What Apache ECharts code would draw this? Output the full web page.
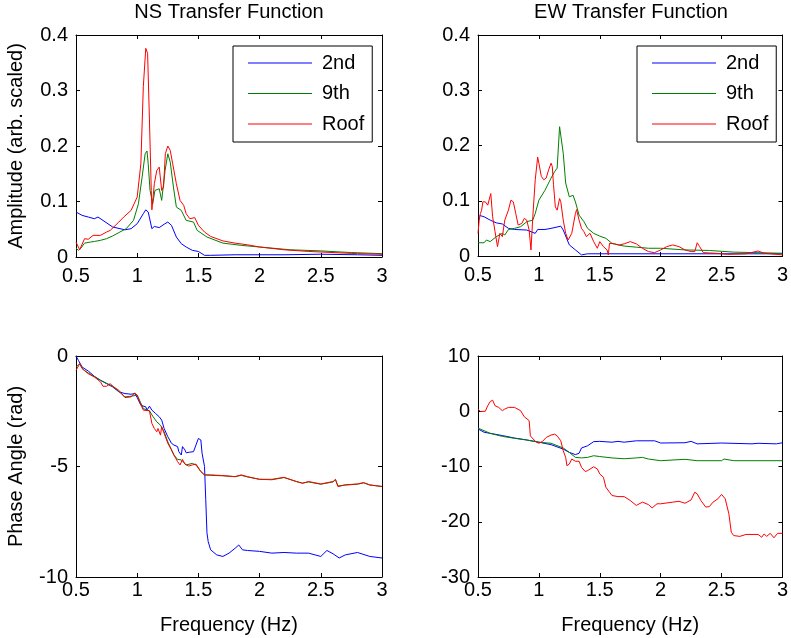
<!DOCTYPE html>
<html>
<head>
<meta charset="utf-8">
<script src="https://cdn.jsdelivr.net/npm/echarts@6/dist/echarts.min.js"></script>
<style>html,body{margin:0;padding:0;background:#fff}#c{width:791px;height:638px}</style>
</head>
<body>
<div id="c"></div>
<script>
// ---------- data (frequency in Hz) ----------
var seriesNames = ['2nd', '9th', 'Roof'];
var xTicks = [0.5, 1, 1.5, 2, 2.5, 3];

// NS amplitude
var nsAmp2ndF = [0.5,0.55,0.6,0.65,0.68,0.72,0.8,0.9,0.95,1.0,1.05,1.07,1.09,1.12,1.14,1.18,1.22,1.25,1.28,1.32,1.36,1.4,1.45,1.5,1.55,1.6,1.8,2.0,2.2,2.5,2.8,3.0];
var nsAmp2ndA = [0.081,0.075,0.072,0.069,0.072,0.066,0.054,0.049,0.051,0.06,0.078,0.085,0.081,0.051,0.055,0.053,0.059,0.063,0.057,0.036,0.024,0.018,0.012,0.01,0.003,0.003,0.004,0.004,0.004,0.005,0.004,0.003];
var nsAmp9thF = [0.5,0.52,0.54,0.57,0.62,0.65,0.7,0.75,0.8,0.85,0.91,0.97,1.01,1.04,1.065,1.08,1.09,1.105,1.127,1.145,1.16,1.18,1.2,1.228,1.25,1.27,1.296,1.32,1.36,1.4,1.46,1.49,1.57,1.7,1.85,2.0,2.25,2.5,2.75,3.0];
var nsAmp9thA = [0.016,0.012,0.016,0.025,0.027,0.028,0.03,0.033,0.038,0.044,0.051,0.066,0.096,0.144,0.186,0.191,0.168,0.12,0.096,0.12,0.12,0.123,0.102,0.156,0.186,0.171,0.126,0.09,0.084,0.066,0.063,0.048,0.036,0.025,0.021,0.018,0.013,0.011,0.008,0.006];
var nsAmpRoofF = [0.5,0.53,0.57,0.6,0.64,0.7,0.75,0.78,0.85,0.89,0.95,1.0,1.03,1.05,1.07,1.085,1.1,1.115,1.12,1.14,1.16,1.18,1.2,1.215,1.23,1.25,1.27,1.29,1.32,1.35,1.38,1.4,1.43,1.47,1.5,1.55,1.6,1.7,1.8,1.9,2.0,2.2,2.4,2.6,2.8,3.0];
var nsAmpRoofA = [0.027,0.013,0.033,0.032,0.039,0.039,0.045,0.048,0.063,0.072,0.084,0.108,0.168,0.307,0.376,0.367,0.247,0.12,0.085,0.132,0.156,0.162,0.12,0.126,0.186,0.2,0.192,0.168,0.132,0.102,0.093,0.078,0.069,0.071,0.057,0.045,0.037,0.029,0.025,0.022,0.018,0.013,0.01,0.008,0.006,0.005];

// EW amplitude
var ewAmp2ndF = [0.5,0.52,0.55,0.6,0.65,0.7,0.75,0.8,0.9,0.97,0.99,1.05,1.1,1.18,1.2,1.25,1.3,1.35,1.4,2.0,2.5,3.0];
var ewAmp2ndA = [0.071,0.073,0.071,0.065,0.06,0.058,0.05,0.048,0.047,0.041,0.048,0.048,0.05,0.054,0.047,0.02,0.011,0.002,0.004,0.004,0.004,0.004];
var ewAmp9thF = [0.5,0.55,0.57,0.6,0.65,0.7,0.72,0.75,0.8,0.85,0.9,0.95,0.97,1.0,1.05,1.1,1.13,1.15,1.17,1.18,1.2,1.22,1.25,1.28,1.3,1.33,1.37,1.4,1.45,1.5,1.55,1.6,1.65,1.7,1.8,1.9,2.0,2.2,2.4,2.6,3.0];
var ewAmp9thA = [0.024,0.024,0.029,0.026,0.035,0.041,0.038,0.048,0.05,0.053,0.062,0.065,0.077,0.101,0.119,0.141,0.153,0.159,0.234,0.231,0.186,0.132,0.107,0.11,0.098,0.074,0.062,0.05,0.041,0.036,0.032,0.023,0.02,0.018,0.016,0.014,0.014,0.011,0.01,0.007,0.005];
var ewAmpRoofF = [0.5,0.51,0.52,0.53,0.54,0.56,0.58,0.6,0.605,0.62,0.64,0.66,0.68,0.7,0.72,0.75,0.77,0.79,0.81,0.83,0.86,0.88,0.9,0.92,0.935,0.95,0.97,0.99,1.0,1.02,1.04,1.06,1.08,1.1,1.11,1.12,1.135,1.15,1.17,1.18,1.2,1.22,1.24,1.25,1.27,1.3,1.31,1.33,1.35,1.37,1.39,1.42,1.45,1.48,1.5,1.53,1.56,1.57,1.58,1.62,1.66,1.7,1.75,1.8,1.85,1.9,1.95,2.0,2.05,2.1,2.15,2.2,2.25,2.28,2.3,2.32,2.35,2.45,2.55,2.7,2.8,2.85,2.9,3.0];
var ewAmpRoofA = [0.041,0.065,0.077,0.083,0.098,0.098,0.092,0.109,0.113,0.071,0.044,0.017,0.041,0.035,0.065,0.083,0.101,0.098,0.077,0.056,0.059,0.068,0.065,0.047,0.011,0.071,0.138,0.179,0.168,0.144,0.138,0.141,0.156,0.168,0.162,0.129,0.089,0.083,0.104,0.098,0.065,0.041,0.029,0.026,0.041,0.077,0.084,0.065,0.05,0.044,0.035,0.041,0.026,0.014,0.026,0.017,0.011,0.002,0.023,0.022,0.02,0.022,0.026,0.022,0.014,0.008,0.006,0.011,0.017,0.02,0.017,0.011,0.008,0.008,0.024,0.017,0.006,0.005,0.003,0.004,0.009,0.005,0.004,0.002];

// NS phase
var nsPh2ndF = [0.5,0.52,0.55,0.6,0.65,0.7,0.75,0.8,0.85,0.9,0.95,0.98,1.0,1.03,1.07,1.08,1.1,1.12,1.15,1.18,1.2,1.22,1.25,1.28,1.3,1.31,1.33,1.34,1.36,1.37,1.39,1.4,1.43,1.46,1.48,1.5,1.52,1.53,1.55,1.56,1.57,1.58,1.6,1.65,1.7,1.75,1.8,1.83,1.86,1.9,2.0,2.1,2.2,2.3,2.4,2.5,2.55,2.6,2.65,2.7,2.8,2.9,3.0];
var nsPh2ndP = [0,-0.2,-0.5,-0.68,-0.92,-1.1,-1.25,-1.4,-1.62,-1.7,-1.73,-1.7,-1.88,-2.23,-2.3,-2.45,-2.27,-2.45,-2.6,-2.75,-2.9,-3.28,-3.65,-3.95,-4.03,-3.95,-4.1,-4.33,-4.48,-4.1,-4.25,-4.38,-4.35,-4.33,-4.03,-3.73,-3.8,-4.4,-5.0,-6.5,-8.0,-8.4,-8.77,-9.0,-9.07,-8.92,-8.7,-8.55,-8.77,-8.8,-8.84,-8.92,-8.89,-8.92,-8.92,-9.07,-8.8,-8.95,-9.14,-9.0,-8.89,-9.07,-9.14];
var nsPh9thF = [0.5,0.53,0.56,0.6,0.7,0.8,0.9,0.95,1.0,1.05,1.1,1.13,1.16,1.19,1.22,1.25,1.3,1.33,1.36,1.4,1.45,1.48,1.52,1.55,1.6,1.7,1.8,1.85,1.9,2.0,2.1,2.2,2.3,2.35,2.4,2.5,2.6,2.62,2.64,2.7,2.8,2.85,2.9,3.0];
var nsPh9thP = [-0.5,-0.35,-0.62,-0.77,-1.1,-1.37,-1.85,-1.82,-1.77,-2.38,-2.48,-2.75,-2.98,-3.13,-3.43,-3.88,-4.48,-4.68,-4.7,-4.93,-4.86,-4.93,-5.23,-5.38,-5.4,-5.42,-5.46,-5.4,-5.47,-5.58,-5.6,-5.5,-5.68,-5.75,-5.7,-5.8,-5.7,-5.6,-5.88,-5.84,-5.8,-5.74,-5.84,-5.9];
var nsPhRoofF = [0.5,0.53,0.55,0.6,0.65,0.7,0.72,0.75,0.78,0.8,0.85,0.9,0.95,0.98,1.0,1.02,1.05,1.1,1.12,1.14,1.16,1.17,1.19,1.2,1.22,1.25,1.28,1.3,1.33,1.35,1.37,1.39,1.42,1.45,1.48,1.52,1.55,1.6,1.7,1.8,1.85,1.9,2.0,2.1,2.2,2.3,2.35,2.4,2.5,2.6,2.62,2.64,2.7,2.8,2.85,2.9,3.0];
var nsPhRoofP = [-0.65,-0.35,-0.57,-0.8,-0.95,-1.17,-1.37,-1.37,-1.25,-1.37,-1.55,-1.88,-1.85,-1.67,-1.77,-2.08,-2.45,-2.48,-3.05,-3.28,-3.43,-3.28,-3.58,-3.2,-3.5,-3.95,-4.25,-4.48,-4.78,-4.93,-4.68,-4.89,-4.98,-4.93,-4.89,-5.23,-5.38,-5.38,-5.41,-5.46,-5.38,-5.46,-5.58,-5.58,-5.49,-5.68,-5.76,-5.68,-5.79,-5.68,-5.58,-5.91,-5.83,-5.79,-5.73,-5.83,-5.91];

// EW phase
var ewPh2ndF = [0.5,0.55,0.6,0.7,0.8,0.9,1.0,1.1,1.2,1.25,1.3,1.33,1.35,1.4,1.45,1.5,1.6,1.65,1.7,1.8,1.95,2.0,2.2,2.25,2.3,2.5,2.75,2.8,2.95,3.0];
var ewPh2ndP = [-3.2,-3.8,-4.0,-4.4,-4.85,-5.2,-5.6,-6.05,-6.85,-7.45,-7.85,-7.6,-6.65,-6.25,-5.5,-5.45,-5.6,-5.45,-5.6,-5.35,-5.35,-5.75,-5.7,-5.45,-5.9,-5.75,-5.9,-5.8,-5.9,-5.7];
var ewPh9thF = [0.5,0.6,0.7,0.8,0.9,1.0,1.1,1.2,1.25,1.3,1.35,1.4,1.45,1.5,1.6,1.7,1.8,1.85,1.9,2.0,2.2,2.3,2.5,2.52,2.6,3.0];
var ewPh9thP = [-3.05,-4.0,-4.55,-4.9,-5.2,-5.6,-5.8,-6.65,-7.45,-8.35,-8.45,-8.35,-8.05,-8.2,-8.45,-8.6,-8.45,-8.35,-8.65,-8.95,-8.7,-8.95,-8.95,-8.65,-8.95,-8.95];
var ewPhRoofF = [0.5,0.52,0.56,0.58,0.6,0.62,0.64,0.67,0.7,0.72,0.75,0.8,0.85,0.88,0.92,0.93,0.96,0.98,1.0,1.03,1.06,1.1,1.13,1.15,1.18,1.2,1.22,1.23,1.25,1.27,1.3,1.33,1.35,1.38,1.4,1.45,1.48,1.5,1.53,1.55,1.58,1.6,1.65,1.7,1.75,1.8,1.85,1.9,1.93,1.97,2.0,2.1,2.15,2.2,2.25,2.28,2.3,2.33,2.37,2.4,2.43,2.47,2.5,2.53,2.56,2.58,2.6,2.65,2.7,2.8,2.83,2.85,2.87,2.9,2.93,2.96,3.0];
var ewPhRoofP = [0.4,-0.05,0,1.0,1.75,2.0,1.0,0.7,0.1,0.4,0.7,0.7,0.1,-1.0,-1.7,-4.45,-5.2,-5.6,-5.8,-5.45,-4.75,-4.3,-4.15,-4.45,-5.35,-7.15,-8.35,-9.85,-9.55,-8.65,-9.05,-9.05,-10.15,-10.9,-10.75,-10.05,-10.45,-11.35,-11.95,-13.75,-14.65,-15.25,-15.45,-15.45,-16.15,-17.05,-16.45,-16.9,-17.5,-16.75,-16.75,-16.45,-16.3,-16.65,-16.05,-14.65,-14.95,-16.15,-17.35,-17.25,-16.45,-15.85,-15.05,-15.85,-18.55,-21.9,-22.5,-22.65,-22.3,-22.3,-22.8,-22.2,-22.65,-22.1,-22.9,-22.1,-22.1];

// ---------- chart ----------
var FONT = 'Liberation Sans, Arial, sans-serif';
var FS = 20;
var colors = {'2nd': '#0000ff', '9th': '#008000', 'Roof': '#ff0000'};

function zip(f, v) { return f.map(function (x, i) { return [x, v[i]]; }); }

var grids = [
  {left: 76, top: 35, width: 306, height: 222},
  {left: 478, top: 35, width: 306, height: 221},
  {left: 76, top: 356, width: 306, height: 221},
  {left: 478, top: 356, width: 306, height: 221}
];
var yRanges = [
  {min: 0, max: 0.4, interval: 0.1},
  {min: 0, max: 0.4, interval: 0.1},
  {min: -10, max: 0, interval: 5},
  {min: -30, max: 10, interval: 10}
];
var xLabelMargin = [9, 9, 3, 3];

var xAxes = [], yAxes = [];
var axisLine = {show: true, onZero: false, lineStyle: {color: '#000', width: 1}};
var tick = {show: true, inside: true, length: 4, lineStyle: {color: '#000'}};
for (var i = 0; i < 4; i++) {
  xAxes.push({
    type: 'value', gridIndex: i, min: 0.5, max: 3, interval: 0.5, position: 'bottom',
    axisLine: axisLine, axisTick: tick, splitLine: {show: false},
    axisLabel: {color: '#000', fontFamily: FONT, fontSize: FS, margin: xLabelMargin[i]},
    name: i >= 2 ? 'Frequency (Hz)' : '', nameLocation: 'middle', nameGap: 38,
    nameTextStyle: {color: '#000', fontFamily: FONT, fontSize: FS}
  });
  yAxes.push({
    type: 'value', gridIndex: i, min: yRanges[i].min, max: yRanges[i].max, interval: yRanges[i].interval,
    position: 'left',
    axisLine: axisLine, axisTick: tick, splitLine: {show: false},
    axisLabel: {color: '#000', fontFamily: FONT, fontSize: FS, margin: 8},
    name: i === 0 ? 'Amplitude (arb. scaled)' : (i === 2 ? 'Phase Angle (rad)' : ''),
    nameLocation: 'middle', nameGap: 50,
    nameTextStyle: {color: '#000', fontFamily: FONT, fontSize: FS}
  });
}
for (var j = 0; j < 4; j++) {
  xAxes.push({
    type: 'value', gridIndex: j, min: 0.5, max: 3, interval: 0.5, position: 'top',
    axisLine: axisLine, axisTick: tick, splitLine: {show: false}, axisLabel: {show: false}
  });
  yAxes.push({
    type: 'value', gridIndex: j, min: yRanges[j].min, max: yRanges[j].max, interval: yRanges[j].interval,
    position: 'right',
    axisLine: axisLine, axisTick: tick, splitLine: {show: false}, axisLabel: {show: false}
  });
}

var panels = [
  [[nsAmp2ndF, nsAmp2ndA], [nsAmp9thF, nsAmp9thA], [nsAmpRoofF, nsAmpRoofA]],
  [[ewAmp2ndF, ewAmp2ndA], [ewAmp9thF, ewAmp9thA], [ewAmpRoofF, ewAmpRoofA]],
  [[nsPh2ndF, nsPh2ndP], [nsPh9thF, nsPh9thP], [nsPhRoofF, nsPhRoofP]],
  [[ewPh2ndF, ewPh2ndP], [ewPh9thF, ewPh9thP], [ewPhRoofF, ewPhRoofP]]
];
var series = [];
panels.forEach(function (p, gi) {
  p.forEach(function (d, si) {
    var nm = seriesNames[si];
    series.push({
      type: 'line', name: nm, xAxisIndex: gi, yAxisIndex: gi,
      data: zip(d[0], d[1]), symbol: 'none', smooth: false, animation: false,
      lineStyle: {color: colors[nm], width: 1}, itemStyle: {color: colors[nm]}
    });
  });
});

function legendAt(left) {
  return {
    orient: 'vertical', left: left, top: 46, data: seriesNames,
    icon: 'rect', itemWidth: 64, itemHeight: 1, itemGap: 10.5,
    padding: [7, 8, 8, 15],
    backgroundColor: '#fff', borderColor: '#000', borderWidth: 1, borderRadius: 0,
    itemStyle: {borderWidth: 0},
    textStyle: {color: '#000', fontFamily: FONT, fontSize: FS, padding: [0, 0, 0, 5]},
    selectedMode: false
  };
}

var chart = echarts.init(document.getElementById('c'), null, {renderer: 'canvas'});
chart.setOption({
  animation: false,
  backgroundColor: '#fff',
  title: [
    {text: 'NS Transfer Function', left: 229, top: 2, padding: 0, textAlign: 'center',
     textStyle: {color: '#000', fontFamily: FONT, fontSize: FS, fontWeight: 'normal'}},
    {text: 'EW Transfer Function', left: 631, top: 2, padding: 0, textAlign: 'center',
     textStyle: {color: '#000', fontFamily: FONT, fontSize: FS, fontWeight: 'normal'}}
  ],
  legend: [legendAt(233), legendAt(637)],
  grid: grids,
  xAxis: xAxes,
  yAxis: yAxes,
  series: series
});
</script>
</body>
</html>
